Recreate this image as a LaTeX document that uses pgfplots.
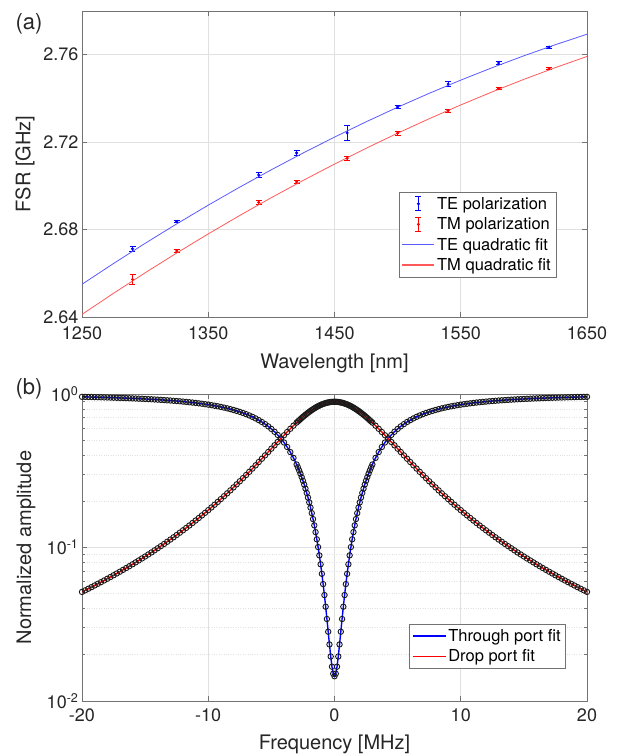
\documentclass[border=0pt]{standalone}
\usepackage{fontspec}
\setmainfont{TeX Gyre Heros}
\usepackage{pgfplots}
\usepackage{pgfplotstable}
\pgfplotsset{compat=1.18}

% (a) measured FSR with error bars
\pgfplotstableread{
lam fsr err
1290 2.6712 0.0010
1325 2.6836 0.0004
1390 2.7050 0.0010
1420 2.7151 0.0010
1460 2.7242 0.0033
1500 2.7361 0.0005
1540 2.7466 0.0012
1580 2.7562 0.0006
1620 2.7635 0.0005
}\tedata
\pgfplotstableread{
lam fsr err
1290 2.6572 0.0023
1325 2.6702 0.0007
1390 2.6925 0.0008
1420 2.7018 0.0008
1460 2.7126 0.0008
1500 2.7241 0.0008
1540 2.7344 0.0008
1580 2.7445 0.0005
1620 2.7536 0.0005
}\tmdata
% quadratic fits
\pgfplotstableread{
lam te tm
1250 2.65497 2.64120
1275 2.66449 2.65086
1300 2.67370 2.66022
1325 2.68259 2.66927
1350 2.69117 2.67802
1375 2.69943 2.68646
1400 2.70737 2.69460
1425 2.71499 2.70243
1450 2.72230 2.70996
1475 2.72929 2.71718
1500 2.73597 2.72410
1525 2.74233 2.73071
1550 2.74837 2.73702
1575 2.75409 2.74302
1600 2.75950 2.74872
1625 2.76459 2.75411
1650 2.76937 2.75920
}\fitdata

% (b) through / drop port amplitude
\pgfplotstableread{
f t d
-20 0.95838 0.05137
-19.75 0.95736 0.05260
-19.5 0.95631 0.05388
-19.25 0.95522 0.05520
-19 0.95409 0.05657
-18.75 0.95291 0.05799
-18.5 0.95170 0.05946
-18.25 0.95043 0.06099
-18 0.94912 0.06257
-17.75 0.94775 0.06422
-17.5 0.94633 0.06593
-17.25 0.94485 0.06771
-17 0.94331 0.06956
-16.75 0.94170 0.07148
-16.5 0.94003 0.07349
-16.25 0.93829 0.07557
-16 0.93647 0.07774
-15.75 0.93457 0.08001
-15.5 0.93259 0.08237
-15.25 0.93052 0.08483
-15 0.92835 0.08740
-14.75 0.92609 0.09009
-14.5 0.92372 0.09289
-14.25 0.92123 0.09583
-14 0.91863 0.09890
-13.75 0.91590 0.10211
-13.5 0.91303 0.10547
-13.25 0.91002 0.10900
-13 0.90686 0.11270
-12.75 0.90353 0.11658
-12.5 0.90003 0.12065
-12.25 0.89634 0.12492
-12 0.89245 0.12942
-11.75 0.88835 0.13414
-11.5 0.88402 0.13912
-11.25 0.87945 0.14436
-11 0.87461 0.14988
-10.75 0.86949 0.15569
-10.5 0.86407 0.16183
-10.25 0.85832 0.16831
-10 0.85222 0.17515
-9.75 0.84575 0.18239
-9.5 0.83887 0.19004
-9.25 0.83155 0.19813
-9 0.82376 0.20670
-8.75 0.81546 0.21578
-8.5 0.80661 0.22539
-8.25 0.79716 0.23559
-8 0.78706 0.24640
-7.75 0.77627 0.25788
-7.5 0.76473 0.27005
-7.25 0.75237 0.28297
-7 0.73913 0.29669
-6.75 0.72495 0.31124
-6.5 0.70973 0.32669
-6.25 0.69342 0.34307
-6 0.67591 0.36043
-5.75 0.65713 0.37883
-5.5 0.63700 0.39829
-5.25 0.61541 0.41885
-5 0.59230 0.44053
-4.75 0.56758 0.46334
-4.5 0.54120 0.48729
-4.25 0.51308 0.51233
-4 0.48323 0.53842
-3.75 0.45165 0.56547
-3.5 0.41840 0.59335
-3.25 0.38359 0.62191
-3 0.34744 0.65091
-2.9 0.33266 0.66258
-2.8 0.31773 0.67426
-2.7 0.30268 0.68592
-2.6 0.28753 0.69756
-2.5 0.27232 0.70912
-2.4 0.25708 0.72061
-2.3 0.24185 0.73197
-2.2 0.22668 0.74320
-2.1 0.21160 0.75425
-2 0.19665 0.76510
-1.9 0.18192 0.77571
-1.8 0.16743 0.78606
-1.7 0.15323 0.79610
-1.6 0.13940 0.80581
-1.5 0.12598 0.81515
-1.4 0.11305 0.82408
-1.3 0.10068 0.83258
-1.2 0.08888 0.84060
-1.1 0.07776 0.84812
-1 0.06737 0.85510
-0.9 0.05777 0.86152
-0.8 0.04900 0.86734
-0.7 0.04114 0.87255
-0.6 0.03421 0.87711
-0.5 0.02828 0.88101
-0.4 0.02336 0.88423
-0.3 0.01950 0.88674
-0.2 0.01673 0.88855
-0.1 0.01506 0.88964
0 0.01450 0.89000
0.1 0.01506 0.88964
0.2 0.01673 0.88855
0.3 0.01950 0.88674
0.4 0.02336 0.88423
0.5 0.02828 0.88101
0.6 0.03421 0.87711
0.7 0.04114 0.87255
0.8 0.04900 0.86734
0.9 0.05777 0.86152
1 0.06737 0.85510
1.1 0.07776 0.84812
1.2 0.08888 0.84060
1.3 0.10068 0.83258
1.4 0.11305 0.82408
1.5 0.12598 0.81515
1.6 0.13940 0.80581
1.7 0.15323 0.79610
1.8 0.16743 0.78606
1.9 0.18192 0.77571
2 0.19665 0.76510
2.1 0.21160 0.75425
2.2 0.22668 0.74320
2.3 0.24185 0.73197
2.4 0.25708 0.72061
2.5 0.27232 0.70912
2.6 0.28753 0.69756
2.7 0.30268 0.68592
2.8 0.31773 0.67426
2.9 0.33266 0.66258
3 0.34744 0.65091
3.25 0.38359 0.62191
3.5 0.41840 0.59335
3.75 0.45165 0.56547
4 0.48323 0.53842
4.25 0.51308 0.51233
4.5 0.54120 0.48729
4.75 0.56758 0.46334
5 0.59230 0.44053
5.25 0.61541 0.41885
5.5 0.63700 0.39829
5.75 0.65713 0.37883
6 0.67591 0.36043
6.25 0.69342 0.34307
6.5 0.70973 0.32669
6.75 0.72495 0.31124
7 0.73913 0.29669
7.25 0.75237 0.28297
7.5 0.76473 0.27005
7.75 0.77627 0.25788
8 0.78706 0.24640
8.25 0.79716 0.23559
8.5 0.80661 0.22539
8.75 0.81546 0.21578
9 0.82376 0.20670
9.25 0.83155 0.19813
9.5 0.83887 0.19004
9.75 0.84575 0.18239
10 0.85222 0.17515
10.25 0.85832 0.16831
10.5 0.86407 0.16183
10.75 0.86949 0.15569
11 0.87461 0.14988
11.25 0.87945 0.14436
11.5 0.88402 0.13912
11.75 0.88835 0.13414
12 0.89245 0.12942
12.25 0.89634 0.12492
12.5 0.90003 0.12065
12.75 0.90353 0.11658
13 0.90686 0.11270
13.25 0.91002 0.10900
13.5 0.91303 0.10547
13.75 0.91590 0.10211
14 0.91863 0.09890
14.25 0.92123 0.09583
14.5 0.92372 0.09289
14.75 0.92609 0.09009
15 0.92835 0.08740
15.25 0.93052 0.08483
15.5 0.93259 0.08237
15.75 0.93457 0.08001
16 0.93647 0.07774
16.25 0.93829 0.07557
16.5 0.94003 0.07349
16.75 0.94170 0.07148
17 0.94331 0.06956
17.25 0.94485 0.06771
17.5 0.94633 0.06593
17.75 0.94775 0.06422
18 0.94912 0.06257
18.25 0.95043 0.06099
18.5 0.95170 0.05946
18.75 0.95291 0.05799
19 0.95409 0.05657
19.25 0.95522 0.05520
19.5 0.95631 0.05388
19.75 0.95736 0.05260
20 0.95838 0.05137
}\resdata

\definecolor{axgray}{gray}{0.45}
\definecolor{grd}{gray}{0.88}
\definecolor{fitblue}{rgb}{0.35,0.35,1}
\definecolor{fitred}{rgb}{1,0.35,0.35}

\pgfplotsset{
  matlab/.style={
    scale only axis, width=505pt,
    axis line style={axgray, line width=0.7pt},
    every tick/.style={axgray, line width=0.7pt},
    major tick length=5pt, minor tick length=3pt,
    tick align=inside, xtick pos=both, ytick pos=both,
    major grid style={grd, line width=0.6pt},
    minor grid style={grd, dotted, line width=0.7pt},
    tick label style={font=\fontsize{18}{20}\selectfont, text=black!85},
    label style={font=\fontsize{20}{22}\selectfont, text=black!85},
    /pgf/number format/assume math mode=true,
    legend style={font=\fontsize{16.5}{19}\selectfont, draw=axgray,
      inner xsep=3pt, inner ysep=2.5pt, row sep=3pt, cells={anchor=west}},
  },
}

\begin{document}
\begin{tikzpicture}[x=1pt,y=1pt]
\useasboundingbox (0,0) rectangle (618,755);

\begin{axis}[matlab, at={(82pt,438pt)}, anchor=south west, height=306pt,
  xmin=1250, xmax=1650, ymin=2.64, ymax=2.78,
  xtick={1250,1350,...,1650}, ytick={2.64,2.68,2.72,2.76},
  grid=major,
  x tick label style={/pgf/number format/1000 sep={}, yshift=-6pt},
  y tick label style={/pgf/number format/.cd, fixed, fixed zerofill, precision=2},
  xlabel={Wavelength [nm]}, ylabel={FSR [GHz]},
  xlabel style={at={(axis description cs:0.5,-0.15)}, anchor=center},
  ylabel style={at={(axis description cs:-0.113,0.5)}, anchor=center},
  legend image code/.code={\draw[#1, line width=1.3pt] plot coordinates {(0pt,0.5pt) (32pt,0.5pt)};},
  legend style={at={(0.9386,0.1307)}, anchor=south east}]
\addplot[blue, only marks, mark=*, mark size=1.3pt,
  error bars/.cd, y dir=both, y explicit,
  error bar style={blue, line width=0.8pt},
  error mark options={rotate=90, blue, mark size=3pt, line width=0.8pt},
  /pgfplots/legend image code/.code={
    \draw[blue, line width=0.8pt] (16pt,-7pt) -- (16pt,7pt) (13pt,-7pt) -- (19pt,-7pt) (13pt,7pt) -- (19pt,7pt);
    \fill[blue] (16pt,0pt) circle (1.3pt);}]
  table[x=lam, y=fsr, y error=err]{\tedata};
\addlegendentry{TE polarization}
\addplot[red, only marks, mark=*, mark size=1.3pt,
  error bars/.cd, y dir=both, y explicit,
  error bar style={red, line width=0.8pt},
  error mark options={rotate=90, red, mark size=3pt, line width=0.8pt},
  /pgfplots/legend image code/.code={
    \draw[red, line width=0.8pt] (16pt,-7pt) -- (16pt,7pt) (13pt,-7pt) -- (19pt,-7pt) (13pt,7pt) -- (19pt,7pt);
    \fill[red] (16pt,0pt) circle (1.3pt);}]
  table[x=lam, y=fsr, y error=err]{\tmdata};
\addlegendentry{TM polarization}
\addplot[fitblue, line width=0.8pt] table[x=lam, y=te]{\fitdata};
\addlegendentry{TE quadratic fit}
\addplot[fitred, line width=0.8pt] table[x=lam, y=tm]{\fitdata};
\addlegendentry{TM quadratic fit}
\end{axis}

\begin{axis}[matlab, at={(82pt,54pt)}, anchor=south west, height=307pt,
  ymode=log, xmin=-20, xmax=20, ymin=0.01, ymax=1,
  xtick={-20,-10,...,20}, ytick={0.01,0.1,1},
  yticklabels={10\textsuperscript{-2},10\textsuperscript{-1},10\textsuperscript{0}},
  xmajorgrids, ymajorgrids, yminorgrids,
  x tick label style={yshift=-4pt},
  xlabel={Frequency [MHz]}, ylabel={Normalized amplitude},
  xlabel style={at={(axis description cs:0.5,-0.14)}, anchor=center},
  ylabel style={at={(axis description cs:-0.111,0.5)}, anchor=center},
  legend image code/.code={\draw[#1] plot coordinates {(0pt,0pt) (33pt,0pt)};},
  legend style={at={(0.958,0.1075)}, anchor=south east}]
\addplot[only marks, mark=o, mark size=2.7pt, black!90, mark options={line width=0.9pt}, forget plot]
  table[x=f, y=t]{\resdata};
\addplot[only marks, mark=o, mark size=2.7pt, black!90, mark options={line width=0.9pt}, forget plot]
  table[x=f, y=d]{\resdata};
\addplot[blue, line width=1.4pt] table[x=f, y=t]{\resdata};
\addlegendentry{Through port fit}
\addplot[red, line width=1.4pt] table[x=f, y=d]{\resdata};
\addlegendentry{Drop port fit}
\end{axis}

\node[font=\fontsize{22}{24}\selectfont, text=black!85] at (29,731) {(a)};
\node[font=\fontsize{22}{24}\selectfont, text=black!85] at (29,366) {(b)};
\end{tikzpicture}
\end{document}
